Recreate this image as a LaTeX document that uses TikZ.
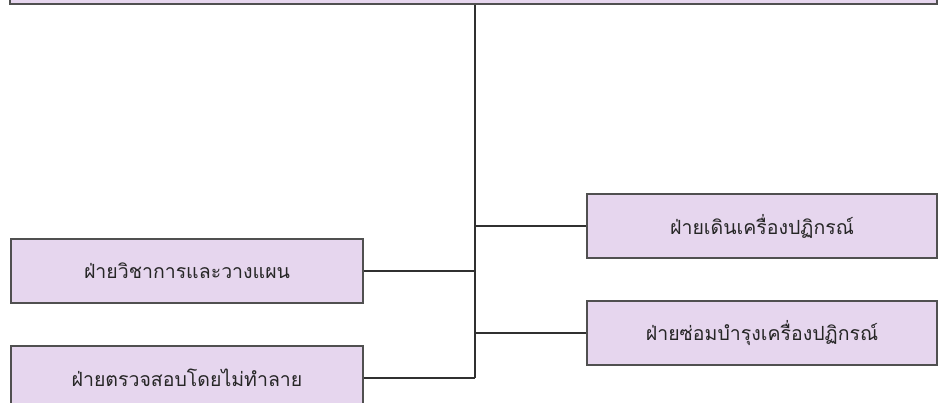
\documentclass[tikz,border=0pt]{standalone}
\usepackage{fontspec}
\newfontfamily\thaifont[Script=Thai]{Loma}
\definecolor{boxfill}{HTML}{E6D6EE}
\definecolor{boxline}{HTML}{505050}
\definecolor{conn}{HTML}{303030}
\begin{document}
\begin{tikzpicture}[x=1pt,y=-1pt,
  unitbox/.style={draw=boxline,fill=boxfill,line width=1.3pt,minimum width=352pt,minimum height=64pt,inner sep=0pt,font=\thaifont\fontsize{19.5}{22}\selectfont,text=black!85},
  conline/.style={draw=conn,line width=1.2pt}]
\useasboundingbox (0,0) rectangle (940,403);
\clip (0,0) rectangle (940,403);
\fill[white] (0,0) rectangle (940,403);
\node[unitbox,minimum width=927pt,minimum height=30pt] (top) at (473.5,-11) {};
\node[unitbox] (b1) at (187,271) {ฝ่ายวิชาการและวางแผน};
\node[unitbox] (b2) at (187,378) {ฝ่ายตรวจสอบโดยไม่ทำลาย};
\node[unitbox,minimum width=350pt] (b3) at (762,226) {ฝ่ายเดินเครื่องปฏิกรณ์};
\node[unitbox,minimum width=350pt] (b4) at (762,333) {ฝ่ายซ่อมบำรุงเครื่องปฏิกรณ์};
\coordinate (trunk) at (475,378);
\draw[conline] (top.south -| trunk) -- (trunk);
\draw[conline] (b1.east) -- (b1.east -| trunk);
\draw[conline] (b2.east) -- (trunk);
\draw[conline] (b3.west) -- (b3.west -| trunk);
\draw[conline] (b4.west) -- (b4.west -| trunk);
\end{tikzpicture}
\end{document}
